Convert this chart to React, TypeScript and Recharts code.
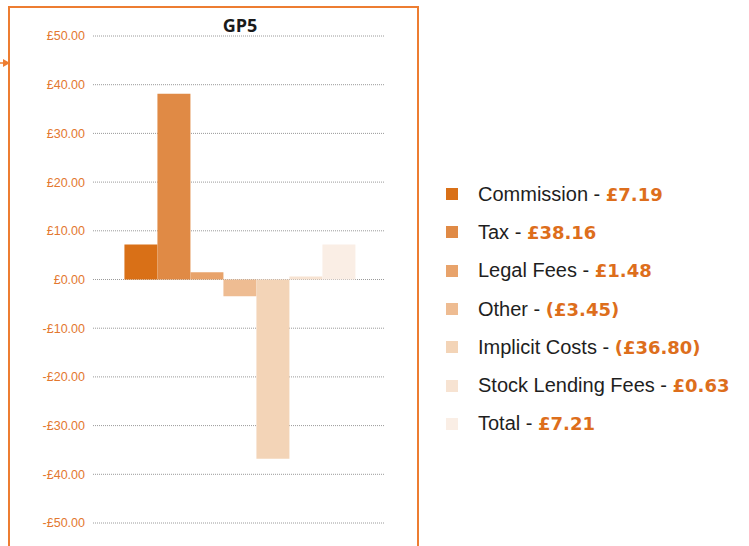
import { BarChart, Bar, YAxis, CartesianGrid } from 'recharts'

const series = ['Commission', 'Tax', 'Legal Fees', 'Other', 'Implicit Costs', 'Stock Lending Fees', 'Total']
const values = [7.19, 38.16, 1.48, -3.45, -36.8, 0.63, 7.21]
const labels = ['£7.19', '£38.16', '£1.48', '(£3.45)', '(£36.80)', '£0.63', '£7.21']
const yTicks = [-50, -40, -30, -20, -10, 0, 10, 20, 30, 40, 50]

const COLORS = ['#d97017', '#e08a45', '#e8a36b', '#eebc92', '#f3d4b7', '#f7e3d2', '#faeee5']

// one category, one bar per cost type
const row: Record<string, number | string> = { name: 'GP5' }
series.forEach((s, i) => { row[s] = values[i] })
const data = [row]

const fmt = (v: number) => (v < 0 ? `-£${Math.abs(v).toFixed(2)}` : `£${v.toFixed(2)}`)

export default function App() {
  return (
    <div style={{ position: 'absolute', left: 0, top: 0, width: 749, height: 546, overflow: 'hidden', background: '#fff', fontFamily: '"Liberation Sans", Arial, sans-serif' }}>
      {/* chart frame */}
      <div style={{ position: 'absolute', left: 8, top: 6, width: 411, height: 560, border: '2px solid #ed7d31', boxSizing: 'border-box' }} />
      <svg width={12} height={12} style={{ position: 'absolute', left: 0, top: 57 }}>
        <line x1={0} y1={6} x2={6} y2={6} stroke="#ed7d31" strokeWidth={1.5} />
        <polygon points="3,2 10,6 3,10" fill="#ed7d31" />
      </svg>
      <div style={{ position: 'absolute', left: 190, width: 100, top: 13, textAlign: 'center', fontWeight: 700, fontSize: 18, color: '#1a1a1a', fontFamily: '"Open Sans", sans-serif' }}>
        GP5
      </div>

      <div style={{ position: 'absolute', left: 0, top: 0 }}>
        <BarChart width={420} height={546} data={data} margin={{ top: 36, right: 36, left: 0, bottom: 23 }}
          barGap={0} barCategoryGap="10.8%">
          <CartesianGrid vertical={false} stroke="#9a9a9a" strokeDasharray="1 1" />
          <YAxis
            domain={[-50, 50]}
            ticks={yTicks}
            width={93}
            axisLine={false}
            tickLine={false}
            tickFormatter={fmt}
            tick={{ fill: '#e3782f', fontSize: 12.5, fontFamily: '"Liberation Sans", Arial, sans-serif' }}
          />
          {series.map((s, i) => (
            <Bar key={s} dataKey={s} fill={COLORS[i]} isAnimationActive={false} />
          ))}
        </BarChart>
      </div>

      {/* legend */}
      <div style={{ position: 'absolute', left: 446, top: 175 }}>
        {series.map((s, i) => (
          <div key={s} style={{ display: 'flex', alignItems: 'center', height: 38.3, fontSize: 20, color: '#1e1e1e' }}>
            <span style={{ width: 12, height: 12, background: COLORS[i], display: 'inline-block', marginRight: 20 }} />
            <span>{s} - <b style={{ color: '#dd6e1c', fontFamily: '"DejaVu Sans", sans-serif', fontSize: 18 }}>{labels[i]}</b></span>
          </div>
        ))}
      </div>
    </div>
  )
}
